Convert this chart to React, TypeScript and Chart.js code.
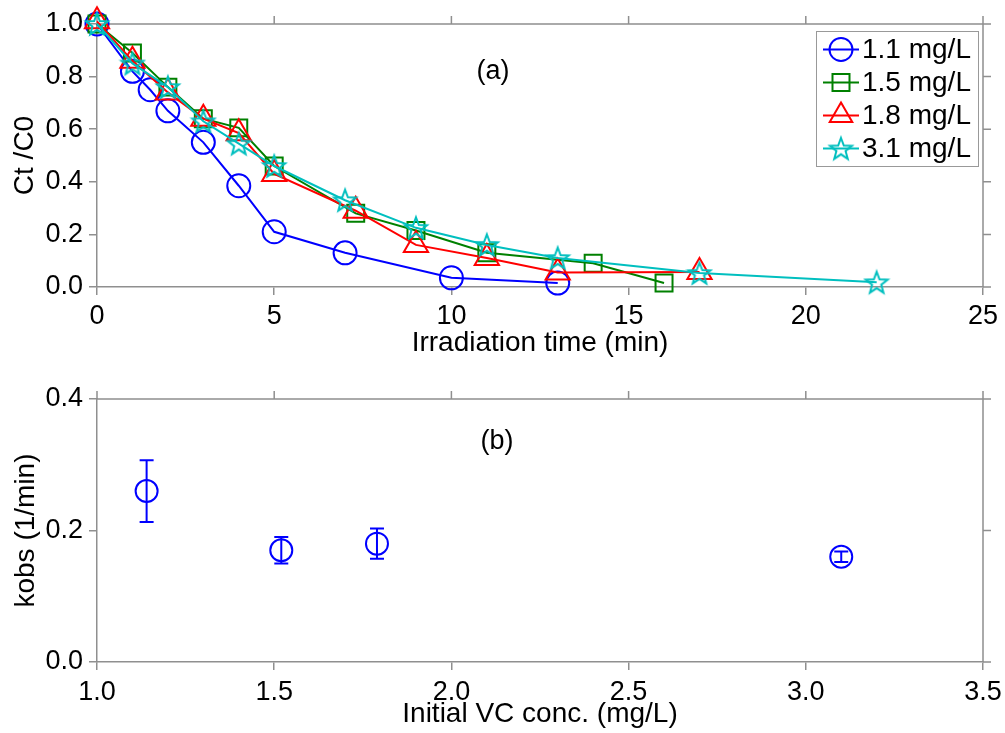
import React, { useEffect, useRef } from 'react';
import { Chart, registerables } from 'chart.js';

Chart.register(...registerables);

// ---------- Data: panel (a) ----------
const timeBlue = [0, 1, 1.5, 2, 3, 4, 5, 7, 10, 13];
const ratioBlue = [1.0, 0.82, 0.75, 0.67, 0.55, 0.385, 0.21, 0.13, 0.035, 0.015];
const timeGreen = [0, 1, 2, 3, 4, 5, 7.3, 9, 11, 14, 16];
const ratioGreen = [1.0, 0.89, 0.76, 0.64, 0.605, 0.46, 0.28, 0.215, 0.13, 0.09, 0.015];
const timeRed = [0, 1, 2, 3, 4, 5, 7.3, 9, 11, 13, 17];
const ratioRed = [1.01, 0.86, 0.74, 0.64, 0.585, 0.43, 0.29, 0.16, 0.11, 0.055, 0.057];
const timeCyan = [0, 1, 2, 3, 4, 5, 7, 9, 11, 13, 17, 22];
const ratioCyan = [1.0, 0.85, 0.76, 0.63, 0.545, 0.46, 0.33, 0.225, 0.16, 0.11, 0.053, 0.018];
const seriesLabels = ['1.1 mg/L', '1.5 mg/L', '1.8 mg/L', '3.1 mg/L'];

// ---------- Data: panel (b) ----------
const initialConc = [1.14, 1.52, 1.79, 3.1];
const kobs = [0.26, 0.17, 0.18, 0.16];
const kobsErr = [0.047, 0.02, 0.023, 0.008];

// ---------- Axis ticks / titles ----------
const topXTitle = 'Irradiation time (min)';
const topYTitle = 'Ct /C0';
const botXTitle = 'Initial VC conc. (mg/L)';
const botYTitle = 'kobs (1/min)';

const FONT = "'Liberation Sans', Arial, Helvetica, sans-serif";
const GRAY = '#8f8f8f';
const BLUE = '#0000ff';
const GREEN = '#008000';
const RED = '#ff0000';
const CYAN = '#00bfbf';

function makeStar(color: string): HTMLCanvasElement {
  const c = document.createElement('canvas');
  c.width = 28;
  c.height = 28;
  const ctx = c.getContext('2d')!;
  const cx = 14, cy = 15, R = 11.5, r = 4.8;
  ctx.beginPath();
  for (let i = 0; i < 10; i++) {
    const rad = i % 2 === 0 ? R : r;
    const a = -Math.PI / 2 + (i * Math.PI) / 5;
    const x = cx + rad * Math.cos(a);
    const y = cy + rad * Math.sin(a);
    if (i === 0) ctx.moveTo(x, y);
    else ctx.lineTo(x, y);
  }
  ctx.closePath();
  ctx.lineWidth = 2;
  ctx.strokeStyle = color;
  ctx.lineJoin = 'miter';
  ctx.stroke();
  return c;
}

function drawMarker(ctx: CanvasRenderingContext2D, style: any, x: number, y: number, color: string) {
  ctx.save();
  ctx.strokeStyle = color;
  ctx.lineWidth = 2;
  ctx.beginPath();
  if (style === 'circle') {
    ctx.arc(x, y, 11.5, 0, Math.PI * 2);
    ctx.stroke();
  } else if (style === 'rect') {
    ctx.rect(x - 8.5, y - 8.5, 17, 17);
    ctx.stroke();
  } else if (style === 'triangle') {
    const r = 13;
    ctx.moveTo(x, y - r);
    ctx.lineTo(x + r * Math.sin(Math.PI / 3 * 2), y + r / 2);
    ctx.lineTo(x - r * Math.sin(Math.PI / 3 * 2), y + r / 2);
    ctx.closePath();
    ctx.stroke();
  } else if (style instanceof HTMLCanvasElement) {
    ctx.drawImage(style, x - style.width / 2, y - style.height / 2);
  }
  ctx.restore();
}

const framePlugin = {
  id: 'frame',
  beforeDatasetsDraw(chart: any) {
    const { ctx, chartArea } = chart;
    const { left, right, top, bottom } = chartArea;
    ctx.save();
    ctx.strokeStyle = GRAY;
    ctx.lineWidth = 1.5;
    ctx.beginPath();
    ctx.moveTo(left, top);
    ctx.lineTo(right, top);
    ctx.moveTo(right, top);
    ctx.lineTo(right, bottom);
    chart.scales.x.ticks.forEach((t: any) => {
      const px = chart.scales.x.getPixelForValue(t.value);
      ctx.moveTo(px, top);
      ctx.lineTo(px, top - 8);
    });
    chart.scales.y.ticks.forEach((t: any) => {
      const py = chart.scales.y.getPixelForValue(t.value);
      ctx.moveTo(right, py);
      ctx.lineTo(right + 8, py);
    });
    ctx.stroke();
    ctx.restore();
  },
};

function panelLabelPlugin(text: string, dx: number, dy: number) {
  return {
    id: 'panelLabel',
    afterDraw(chart: any) {
      const { ctx, chartArea } = chart;
      ctx.save();
      ctx.font = `27px ${FONT}`;
      ctx.fillStyle = '#000';
      ctx.textAlign = 'center';
      ctx.textBaseline = 'middle';
      ctx.fillText(text, chartArea.left + dx, chartArea.top + dy);
      ctx.restore();
    },
  };
}

const legendPlugin = {
  id: 'customLegend',
  afterDraw(chart: any) {
    const { ctx, chartArea } = chart;
    const w = 162, h = 135;
    const bx = chartArea.right - 5 - w;
    const by = chartArea.top + 7;
    ctx.save();
    ctx.fillStyle = '#fff';
    ctx.fillRect(bx, by, w, h);
    ctx.strokeStyle = '#999';
    ctx.lineWidth = 1;
    ctx.strokeRect(bx + 0.5, by + 0.5, w, h);
    chart.data.datasets.forEach((ds: any, i: number) => {
      const cy = by + 18.5 + i * 33;
      ctx.strokeStyle = ds.borderColor;
      ctx.lineWidth = 2;
      ctx.beginPath();
      ctx.moveTo(bx + 7, cy);
      ctx.lineTo(bx + 43, cy);
      ctx.stroke();
      drawMarker(ctx, ds.pointStyle, bx + 25, cy, ds.borderColor);
      ctx.fillStyle = '#000';
      ctx.font = `28px ${FONT}`;
      ctx.textAlign = 'left';
      ctx.textBaseline = 'middle';
      ctx.fillText(ds.label, bx + 46, cy + 1);
    });
    ctx.restore();
  },
};

const errorBarPlugin = {
  id: 'errorBars',
  afterDatasetsDraw(chart: any) {
    const { ctx } = chart;
    const xs = chart.scales.x;
    const ys = chart.scales.y;
    ctx.save();
    ctx.strokeStyle = BLUE;
    ctx.lineWidth = 2;
    ctx.beginPath();
    initialConc.forEach((c, i) => {
      const px = xs.getPixelForValue(c);
      const pTop = ys.getPixelForValue(kobs[i] + kobsErr[i]);
      const pBot = ys.getPixelForValue(kobs[i] - kobsErr[i]);
      ctx.moveTo(px, pTop);
      ctx.lineTo(px, pBot);
      ctx.moveTo(px - 7, pTop);
      ctx.lineTo(px + 7, pTop);
      ctx.moveTo(px - 7, pBot);
      ctx.lineTo(px + 7, pBot);
    });
    ctx.stroke();
    ctx.restore();
  },
};

const tickFont = { family: FONT, size: 27 };
const titleFont = { family: FONT, size: 28 };

function axisCommon() {
  return {
    grid: { drawOnChartArea: false, tickLength: 8, color: GRAY, lineWidth: 1.5 },
    border: { color: GRAY, width: 1.5 },
  };
}

function makeSeries(label: string, xs: number[], ys: number[], color: string, style: any, order: number, radius: number) {
  return {
    label,
    data: xs.map((x, i) => ({ x, y: ys[i] })),
    borderColor: color,
    backgroundColor: 'rgba(0,0,0,0)',
    pointBackgroundColor: 'rgba(0,0,0,0)',
    pointBorderColor: color,
    pointStyle: style,
    pointRadius: radius,
    pointBorderWidth: 2,
    borderWidth: 2,
    tension: 0,
    clip: false as any,
    order,
  };
}

export default function App() {
  const topRef = useRef<HTMLCanvasElement>(null);
  const botRef = useRef<HTMLCanvasElement>(null);

  useEffect(() => {
    const star = makeStar(CYAN);
    const top = new Chart(topRef.current!, {
      type: 'line',
      data: {
        datasets: [
          makeSeries(seriesLabels[0], timeBlue, ratioBlue, BLUE, 'circle', 4, 11.5),
          makeSeries(seriesLabels[1], timeGreen, ratioGreen, GREEN, 'rect', 3, 12),
          makeSeries(seriesLabels[2], timeRed, ratioRed, RED, 'triangle', 2, 14),
          makeSeries(seriesLabels[3], timeCyan, ratioCyan, CYAN, star, 1, 12),
        ] as any,
      },
      options: {
        responsive: false,
        animation: false,
        events: [],
        layout: { padding: { top: 24, right: 22, left: 0, bottom: 0 } },
        plugins: { legend: { display: false }, tooltip: { enabled: false } },
        scales: {
          x: {
            type: 'linear',
            min: 0,
            max: 25,
            ...axisCommon(),
            ticks: { stepSize: 5, font: tickFont, color: '#000', padding: 5, maxRotation: 0, callback: (v: any) => String(v) },
            title: { display: true, text: topXTitle, font: titleFont, color: '#000', padding: { top: 0, bottom: 6 } },
            afterFit: (s: any) => { s.height = 79; s.paddingLeft = 0; s.paddingRight = 0; },
          },
          y: {
            type: 'linear',
            min: 0,
            max: 1,
            ...axisCommon(),
            ticks: { stepSize: 0.2, font: tickFont, color: '#000', padding: 6, callback: (v: any) => Number(v).toFixed(1) },
            title: { display: true, text: topYTitle, font: titleFont, color: '#000', padding: { top: 8, bottom: 0 } },
            afterFit: (s: any) => { s.width = 97; s.paddingTop = 0; s.paddingBottom = 0; },
          },
        },
      } as any,
      plugins: [framePlugin, legendPlugin, panelLabelPlugin('(a)', 396, 48)],
    });

    const bot = new Chart(botRef.current!, {
      type: 'scatter',
      data: {
        datasets: [
          {
            label: 'kobs',
            data: initialConc.map((c, i) => ({ x: c, y: kobs[i] })),
            borderColor: BLUE,
            backgroundColor: 'rgba(0,0,0,0)',
            pointBackgroundColor: 'rgba(0,0,0,0)',
            pointBorderColor: BLUE,
            pointStyle: 'circle',
            pointRadius: 11,
            pointBorderWidth: 2,
            showLine: false,
            clip: false as any,
          },
        ],
      },
      options: {
        responsive: false,
        animation: false,
        events: [],
        layout: { padding: { top: 33, right: 22, left: 0, bottom: 0 } },
        plugins: { legend: { display: false }, tooltip: { enabled: false } },
        scales: {
          x: {
            type: 'linear',
            min: 1,
            max: 3.5,
            ...axisCommon(),
            ticks: { stepSize: 0.5, font: tickFont, color: '#000', padding: 6, maxRotation: 0, callback: (v: any) => Number(v).toFixed(1) },
            title: { display: true, text: botXTitle, font: titleFont, color: '#000', padding: { top: 0, bottom: 2 } },
            afterFit: (s: any) => { s.height = 71; s.paddingLeft = 0; s.paddingRight = 0; },
          },
          y: {
            type: 'linear',
            min: 0,
            max: 0.4,
            ...axisCommon(),
            ticks: { stepSize: 0.2, font: tickFont, color: '#000', padding: 6, callback: (v: any) => Number(v).toFixed(1) },
            title: { display: true, text: botYTitle, font: titleFont, color: '#000', padding: { top: 9, bottom: 0 } },
            afterFit: (s: any) => { s.width = 97; s.paddingTop = 0; s.paddingBottom = 0; },
          },
        },
      } as any,
      plugins: [framePlugin, errorBarPlugin, panelLabelPlugin('(b)', 400, 43)],
    });

    return () => {
      top.destroy();
      bot.destroy();
    };
  }, []);

  return (
    <div style={{ position: 'absolute', left: 0, top: 0, width: 1005, height: 733, background: '#fff' }}>
      <canvas ref={topRef} width={1005} height={366} style={{ position: 'absolute', left: 0, top: 0, width: 1005, height: 366 }} />
      <canvas ref={botRef} width={1005} height={367} style={{ position: 'absolute', left: 0, top: 366, width: 1005, height: 367 }} />
    </div>
  );
}
